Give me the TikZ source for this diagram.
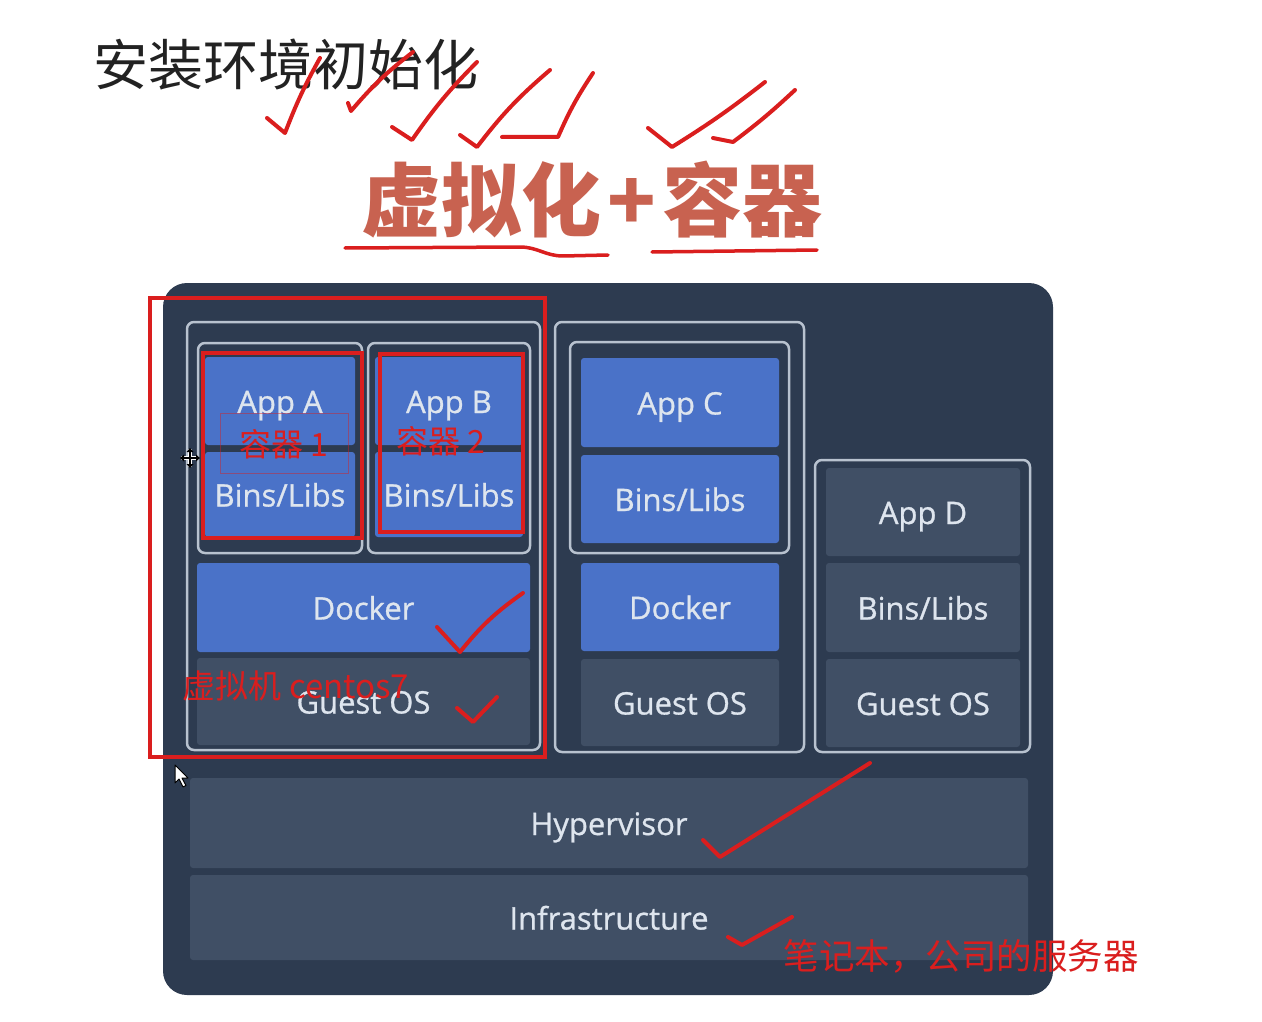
\documentclass[tikz,border=0pt]{standalone}
\usepackage{fontspec}
\usetikzlibrary{calc}
\setmainfont{Open Sans}[FakeBold=0.9]
\newfontfamily\cjk{Noto Sans CJK SC}
\definecolor{panelc}{RGB}{45,59,80}
\definecolor{bluec}{RGB}{74,114,200}
\definecolor{grayc}{RGB}{64,79,101}
\definecolor{framec}{RGB}{184,194,207}
\definecolor{labc}{RGB}{222,229,238}
\definecolor{redc}{RGB}{218,30,30}
\definecolor{titlec}{RGB}{200,98,80}
\definecolor{darkt}{RGB}{34,34,34}
\tikzset{
  panel/.style={fill=panelc, rounded corners=24pt, inner sep=0pt},
  vmframe/.style={draw=framec, line width=2.5pt, rounded corners=7pt, inner sep=0pt},
  layerbox/.style={rounded corners=3pt, inner sep=0pt, text=labc, text height=28pt, text depth=4pt, font=\fontsize{31}{36}\selectfont},
  bluebox/.style={layerbox, fill=bluec},
  graybox/.style={layerbox, fill=grayc},
  redframe/.style={draw=redc, line width=3.5pt, inner sep=0pt},
  faintframe/.style={draw=redc, draw opacity=0.45, line width=0.8pt, inner sep=0pt},
  tick/.style={draw=redc, line width=4pt, line cap=round, line join=round},
  note/.style={text=redc, inner sep=0pt, font=\cjk\fontsize{32}{36}\selectfont},
}
\begin{document}
\begin{tikzpicture}[x=1pt, y=-1pt]
\useasboundingbox[fill=white] (0,0) rectangle (1262,1022);

% titles
\node[inner sep=0pt, text=darkt, font=\cjk\fontsize{55}{62}\selectfont] (title) at (286,65) {安装环境初始化};
\node[inner sep=0pt, text=titlec, font=\cjk\bfseries\fontsize{80}{90}\selectfont] (big) at (592,200) {虚拟化\hspace{6pt}+\hspace{6pt}容器};

% main panel
\node[panel, minimum width=890pt, minimum height=712pt] (panel) at (608,639) {};

% VM 1
\node[vmframe, minimum width=353pt, minimum height=428pt] (vm1) at (363.5,536) {};
\node[vmframe, minimum width=164pt, minimum height=210pt] (ca) at (280,448) {};
\node[vmframe, minimum width=162pt, minimum height=210pt] (cb) at (449,448) {};
\node[bluebox, minimum width=150pt, minimum height=88pt] (appa) at (280,401) {App A};
\node[bluebox, minimum width=150pt, minimum height=85pt] (binsa) at (280,494.5) {Bins/Libs};
\node[bluebox, minimum width=148pt, minimum height=88pt] (appb) at (449,401) {App B};
\node[bluebox, minimum width=148pt, minimum height=85pt] (binsb) at (449,494.5) {Bins/Libs};
\node[bluebox, minimum width=333pt, minimum height=89pt] (docker1) at (363.5,607.5) {Docker};
\node[graybox, minimum width=333pt, minimum height=87pt] (guest1) at (363.5,701.5) {Guest OS};

% VM 2
\node[vmframe, minimum width=249pt, minimum height=430pt] (vm2) at (679.5,537) {};
\node[vmframe, minimum width=219pt, minimum height=211pt] (cc) at (679.5,447.5) {};
\node[bluebox, minimum width=198pt, minimum height=89pt] (appc) at (680,402.5) {App C};
\node[bluebox, minimum width=198pt, minimum height=88pt] (binsc) at (680,499) {Bins/Libs};
\node[bluebox, minimum width=198pt, minimum height=88pt] (docker2) at (680,607) {Docker};
\node[graybox, minimum width=198pt, minimum height=87pt] (guest2) at (680,702.5) {Guest OS};

% VM 3
\node[vmframe, minimum width=215pt, minimum height=292pt] (vm3) at (922.5,606) {};
\node[graybox, minimum width=194pt, minimum height=88pt] (appd) at (923,512) {App D};
\node[graybox, minimum width=194pt, minimum height=89pt] (binsd) at (923,607.5) {Bins/Libs};
\node[graybox, minimum width=194pt, minimum height=88pt] (guest3) at (923,703) {Guest OS};

% base layers
\node[graybox, minimum width=838pt, minimum height=90pt] (hyper) at (609,823) {Hypervisor};
\node[graybox, minimum width=838pt, minimum height=85pt] (infra) at (609,917.5) {Infrastructure};

% red annotations
\node[redframe, minimum width=395pt, minimum height=459pt] (rbig) at (347.5,527.5) {};
\node[redframe, minimum width=159pt, minimum height=185pt] (ra) at (282.5,445.5) {};
\node[redframe, minimum width=143pt, minimum height=178pt] (rb) at (451.5,443) {};
\node[faintframe, minimum width=128pt, minimum height=60pt] (rfaint) at (284,443) {};
\node[note] (c1) at (284,444) {容器 1};
\node[note] (c2) at (441,441) {容器 2};
\node[note, font=\cjk\fontsize{33}{38}\selectfont] (vmlabel) at (296,686) {虚拟机 centos7};
\node[note, font=\cjk\fontsize{35.5}{40}\selectfont] (server) at (961,956) {笔记本，公司的服务器};

% underlines
\draw[tick, line width=3.5pt] (345,248) -- (520,247) to[out=0,in=180] (563,256) -- (608,255);
\draw[tick, line width=3.5pt] (652,252) -- (817,250);

% check marks at the top
\draw[tick] (267,118) -- (285,133) to[bend left=4] (320,58);
\draw[tick] (348,103) -- (351,111) to[bend left=6] (413,52);
\draw[tick] (392,127) -- (412,140) to[bend left=5] (477,62);
\draw[tick] (460,135) -- (477,147) to[bend left=6] (550,70);
\draw[tick] (502,137) -- (558,137) to[bend left=5] (593,73);
\draw[tick] (648,128) -- (672,147) to[bend right=3] (765,82);
\draw[tick] (713,138) -- (733,142) to[bend right=3] (795,90);

% check marks in the diagram
\draw[tick] (437,627) -- (460,652) to[bend left=8] (523,593);
\draw[tick] (457,708) -- (473,722) -- (497,697);
\draw[tick] (703,840) -- (720,857) -- (870,763);
\draw[tick] (728,937) -- (742,945) -- (792,917);

% cursors
\coordinate (mv) at (190,458);
\draw[white, line width=4pt] ($(mv)+(-9,0)$) -- ($(mv)+(9,0)$) ($(mv)+(0,-9)$) -- ($(mv)+(0,9)$);
\draw[black, line width=1.8pt] ($(mv)+(-8,0)$) -- ($(mv)+(8,0)$) ($(mv)+(0,-8)$) -- ($(mv)+(0,8)$);
\fill[black] ($(mv)+(-10,0)$) -- ++(4,-3.5) -- ++(0,7) -- cycle;
\fill[black] ($(mv)+(10,0)$) -- ++(-4,-3.5) -- ++(0,7) -- cycle;
\fill[black] ($(mv)+(0,-10)$) -- ++(-3.5,4) -- ++(7,0) -- cycle;
\fill[black] ($(mv)+(0,10)$) -- ++(-3.5,-4) -- ++(7,0) -- cycle;
\coordinate (ar) at (175,765);
\draw[fill=white, draw=black, line width=1pt, line join=round] (ar) -- ++(0,18) -- ++(4,-4) -- ++(4,8) -- ++(3,-1.5) -- ++(-4,-7.5) -- ++(6,0) -- cycle;
\end{tikzpicture}
\end{document}
